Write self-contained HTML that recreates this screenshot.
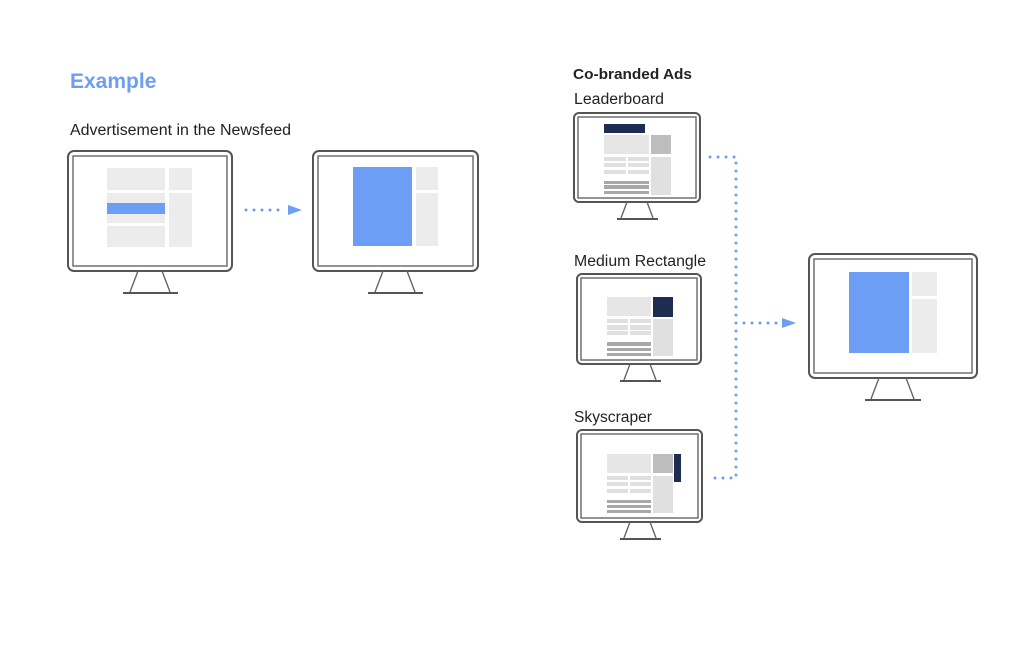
<!DOCTYPE html>
<html><head><meta charset="utf-8"><style>
html,body{margin:0;padding:0;background:#fff;}
svg{display:block;}
text{font-family:"Liberation Sans",sans-serif;fill:#222;}
.fr{fill:none;stroke:#555;stroke-width:2;}
.fr2{fill:none;stroke:#666;stroke-width:1.4;}
.dot{stroke:#6d9ef6;stroke-width:3;stroke-linecap:round;stroke-dasharray:0 8;fill:none;}
</style></head><body>
<svg width="1024" height="652" viewBox="0 0 1024 652" xmlns="http://www.w3.org/2000/svg">
<text x="70" y="88" style="font-size:21px;font-weight:bold;fill:#6d9ef6">Example</text>
<text x="70" y="135" style="font-size:15.5px" textLength="221" lengthAdjust="spacingAndGlyphs">Advertisement in the Newsfeed</text>
<text x="573" y="79" style="font-size:15px;font-weight:bold" textLength="119" lengthAdjust="spacingAndGlyphs">Co-branded Ads</text>
<text x="574" y="104" style="font-size:15.5px" textLength="90" lengthAdjust="spacingAndGlyphs">Leaderboard</text>
<text x="574" y="266" style="font-size:15.5px" textLength="132" lengthAdjust="spacingAndGlyphs">Medium Rectangle</text>
<text x="574" y="422" style="font-size:15.5px" textLength="78" lengthAdjust="spacingAndGlyphs">Skyscraper</text>

<!-- monitor 1 -->
<rect class="fr" x="68" y="151" width="164" height="120" rx="6"/>
<rect class="fr2" x="73" y="156" width="154" height="110"/>
<path class="fr2" d="M138 271 L130 292 M162 271 L170 292"/>
<path d="M123 293 L178 293" stroke="#555" stroke-width="2"/>
<rect x="107" y="168" width="58" height="22" fill="#ececec"/>
<rect x="107" y="193" width="58" height="30" fill="#ececec"/>
<rect x="107" y="203" width="58" height="11" fill="#6d9ef6"/>
<rect x="107" y="226" width="58" height="21" fill="#ececec"/>
<rect x="169" y="168" width="23" height="22" fill="#ececec"/>
<rect x="169" y="193" width="23" height="54" fill="#ececec"/>
<path class="dot" d="M246 210 L286 210"/>
<path d="M288 205 L302 210 L288 215 Z" fill="#6d9ef6"/>

<!-- monitor 2 -->
<rect class="fr" x="313" y="151" width="165" height="120" rx="6"/>
<rect class="fr2" x="318" y="156" width="155" height="110"/>
<path class="fr2" d="M383 271 L375 292 M407 271 L415 292"/>
<path d="M368 293 L423 293" stroke="#555" stroke-width="2"/>
<rect x="353" y="167" width="59" height="79" fill="#6d9ef6"/>
<rect x="416" y="167" width="22" height="23" fill="#ececec"/>
<rect x="416" y="193" width="22" height="53" fill="#ececec"/>

<!-- leaderboard -->
<rect class="fr" x="574" y="113" width="126" height="89" rx="5"/>
<rect class="fr2" x="578" y="117" width="118" height="81"/>
<path class="fr2" d="M627 202 L621 218 M647 202 L653 218"/>
<path d="M617 219 L658 219" stroke="#555" stroke-width="2"/>
<rect x="604" y="124" width="41" height="9" fill="#1d2d52"/>
<rect x="604" y="135" width="45" height="19" fill="#e6e6e6"/>
<rect x="651" y="135" width="20" height="19" fill="#bdbdbd"/>
<rect x="651" y="157" width="20" height="38" fill="#e0e0e0"/>
<g fill="#e0e0e0"><rect x="604" y="157" width="22" height="4"/><rect x="628" y="157" width="21" height="4"/><rect x="604" y="163" width="22" height="4"/><rect x="628" y="163" width="21" height="4"/><rect x="604" y="170" width="22" height="4"/><rect x="628" y="170" width="21" height="4"/></g>
<g fill="#a8a8a8"><rect x="604" y="181" width="45" height="3"/><rect x="604" y="185" width="45" height="4"/><rect x="604" y="191" width="45" height="3"/></g>

<!-- medium rectangle -->
<rect class="fr" x="577" y="274" width="124" height="90" rx="5"/>
<rect class="fr2" x="581" y="278" width="116" height="82"/>
<path class="fr2" d="M630 364 L624 380 M650 364 L656 380"/>
<path d="M620 381 L661 381" stroke="#555" stroke-width="2"/>
<rect x="607" y="297" width="44" height="19" fill="#e6e6e6"/>
<rect x="653" y="297" width="20" height="20" fill="#1d2d52"/>
<rect x="653" y="319" width="20" height="37" fill="#e0e0e0"/>
<g fill="#e0e0e0"><rect x="607" y="319" width="21" height="4"/><rect x="630" y="319" width="21" height="4"/><rect x="607" y="325" width="21" height="5"/><rect x="630" y="325" width="21" height="5"/><rect x="607" y="331" width="21" height="4"/><rect x="630" y="331" width="21" height="4"/></g>
<g fill="#a8a8a8"><rect x="607" y="342" width="44" height="4"/><rect x="607" y="348" width="44" height="3"/><rect x="607" y="353" width="44" height="3"/></g>

<!-- skyscraper -->
<rect class="fr" x="577" y="430" width="125" height="92" rx="5"/>
<rect class="fr2" x="581" y="434" width="117" height="84"/>
<path class="fr2" d="M630 522 L624 538 M650 522 L656 538"/>
<path d="M620 539 L661 539" stroke="#555" stroke-width="2"/>
<rect x="607" y="454" width="44" height="19" fill="#e6e6e6"/>
<rect x="653" y="454" width="20" height="19" fill="#bdbdbd"/>
<rect x="674" y="454" width="7" height="28" fill="#1d2d52"/>
<rect x="653" y="476" width="20" height="37" fill="#e0e0e0"/>
<g fill="#e0e0e0"><rect x="607" y="476" width="21" height="4"/><rect x="630" y="476" width="21" height="4"/><rect x="607" y="482" width="21" height="4"/><rect x="630" y="482" width="21" height="4"/><rect x="607" y="489" width="21" height="4"/><rect x="630" y="489" width="21" height="4"/></g>
<g fill="#a8a8a8"><rect x="607" y="500" width="44" height="3"/><rect x="607" y="505" width="44" height="3"/><rect x="607" y="510" width="44" height="3"/></g>

<!-- connectors -->
<path class="dot" d="M710 157 L736 157 L736 478 L710 478"/>
<path class="dot" d="M744 323 L784 323"/>
<path d="M782 318 L796 323 L782 328 Z" fill="#6d9ef6"/>

<!-- big monitor -->
<rect class="fr" x="809" y="254" width="168" height="124" rx="6"/>
<rect class="fr2" x="814" y="259" width="158" height="114"/>
<path class="fr2" d="M879 378 L871 399 M906 378 L914 399"/>
<path d="M865 400 L921 400" stroke="#555" stroke-width="2"/>
<rect x="849" y="272" width="60" height="81" fill="#6d9ef6"/>
<rect x="912" y="272" width="25" height="24" fill="#ececec"/>
<rect x="912" y="299" width="25" height="54" fill="#ececec"/>
</svg>
</body></html>
